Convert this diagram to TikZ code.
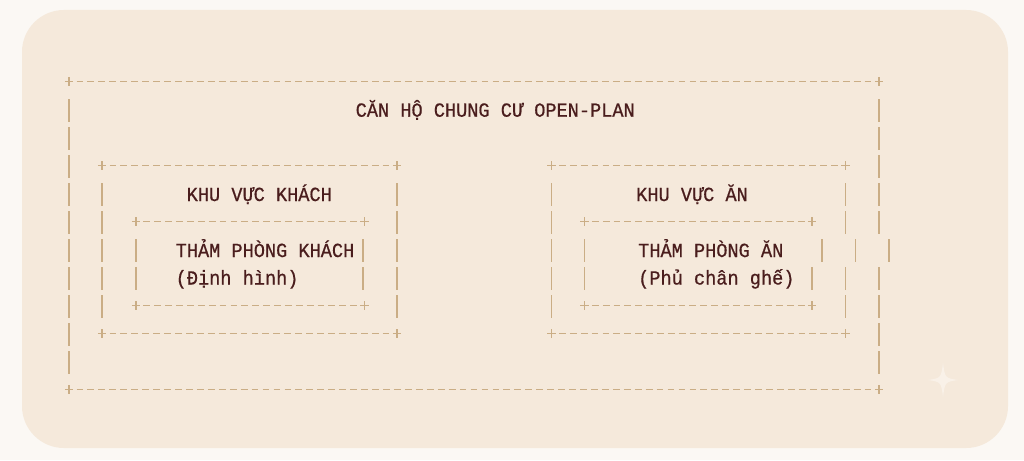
\documentclass[tikz,border=0pt]{standalone}
\usepackage{fontspec}
\newfontfamily\asciimono[FakeStretch=0.93,FakeBold=0.6]{Liberation Mono}
\definecolor{bgpage}{HTML}{FBF8F4}
\definecolor{panel}{HTML}{F5E9DB}
\definecolor{rule}{HTML}{CAAD85}
\definecolor{ink}{HTML}{4A1D1D}
\definecolor{spark}{HTML}{F9F1E8}
\tikzset{
  lbl/.style={anchor=base west, inner sep=0pt, text=ink, font=\asciimono\fontsize{20}{22}\selectfont},
  dashseg/.style={draw=rule, line width=1.8pt},
  barseg/.style={draw=rule, line width=1.4pt},
  plusmark/.style={draw=rule, line width=1.4pt},
}
% horizontal ascii rule: x1, x2, y, number of columns
\newcommand\asciirule[4]{%
  \pgfmathsetmacro\colw{(#2-#1)/#4}%
  \pgfmathtruncatemacro\nlast{#4-1}%
  \foreach \i in {1,...,\nlast} {\draw[dashseg] ({#1+\colw*\i-3.4},#3) -- ++(6.8,0);}
  \draw[plusmark] ({#1-4.2},#3) -- ++(8.4,0) (#1,{#3-4.2}) -- ++(0,8.4);
  \draw[plusmark] ({#2-4.2},#3) -- ++(8.4,0) (#2,{#3-4.2}) -- ++(0,8.4);
}
% vertical bars: y centre, list of x
\newcommand\asciibars[2]{%
  \foreach \xx in {#2} {\draw[barseg] (\xx,{#1-11.5}) -- (\xx,{#1+11.5});}
}
\begin{document}
\begin{tikzpicture}[x=1pt,y=-1pt]
\useasboundingbox (0,0) rectangle (1024,460);
\fill[bgpage] (0,0) rectangle (1024,460);
\fill[panel, rounded corners=42pt] (22,10) rectangle (1008,448);
% sparkle
\fill[spark] (943,363) .. controls (945,378) .. (958,380) .. controls (945,382) .. (943,397) .. controls (941,382) .. (928,380) .. controls (941,378) .. cycle;

% horizontal rules
\asciirule{69}{879}{81.5}{74}
\asciirule{69}{879}{389.5}{74}
\asciirule{102}{397}{165.5}{27}
\asciirule{102}{397}{333.5}{27}
\asciirule{136}{364.5}{221.5}{21}
\asciirule{136}{364.5}{305.5}{21}
\asciirule{551.5}{845.5}{165.5}{27}
\asciirule{551.5}{845.5}{333.5}{27}
\asciirule{584.5}{812}{221.5}{21}
\asciirule{584.5}{812}{305.5}{21}

% vertical bars
\asciibars{110.5}{69,879}
\asciibars{138.5}{69,879}
\asciibars{166.5}{69,879}
\asciibars{194.5}{69,102,397,551.5,845.5,879}
\asciibars{222.5}{69,102,397,551.5,845.5,879}
\asciibars{250.5}{69,102,136,363,397,551.5,584.5,822,855.5,889}
\asciibars{278.5}{69,102,136,363,397,551.5,584.5,812,845.5,879}
\asciibars{306.5}{69,102,397,551.5,845.5,879}
\asciibars{334.5}{69,879}
\asciibars{362.5}{69,879}

% texts
\node[lbl] (title) at (355.5,116.7) {CĂN HỘ CHUNG CƯ OPEN-PLAN};
\node[lbl] (zoneL) at (186.5,201) {KHU VỰC KHÁCH};
\node[lbl] (rugL) at (175.5,257) {THẢM PHÒNG KHÁCH};
\node[lbl] (rugLsub) at (175.5,284.5) {(Định hình)};
\node[lbl] (zoneR) at (636,201) {KHU VỰC ĂN};
\node[lbl] (rugR) at (638,257) {THẢM PHÒNG ĂN};
\node[lbl] (rugRsub) at (638,284.5) {(Phủ chân ghế)};
\end{tikzpicture}
\end{document}
